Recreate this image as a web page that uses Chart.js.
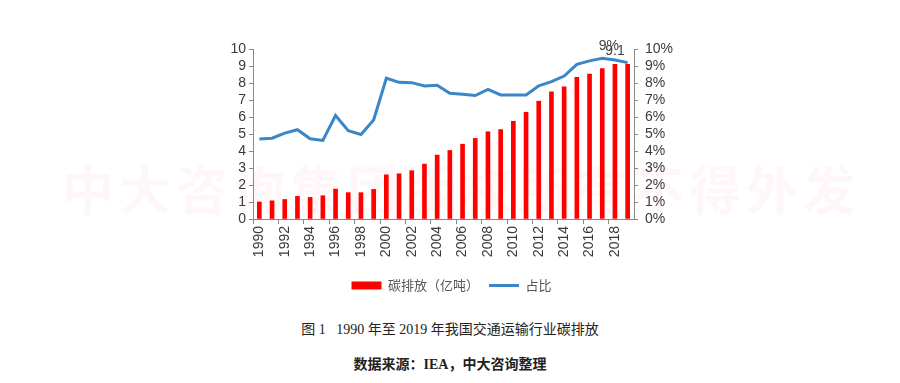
<!DOCTYPE html>
<html>
<head>
<meta charset="utf-8">
<script src="https://cdn.jsdelivr.net/npm/chart.js@4/dist/chart.umd.min.js"></script>
<style>
  html, body { margin: 0; padding: 0; background: #fff; }
  body { width: 900px; height: 383px; position: relative; overflow: hidden; }
  #wm { position: absolute; left: 62px; top: 150px; font: 52px "Noto Sans CJK SC", sans-serif; letter-spacing: 5px; color: rgba(255,0,0,0.03); white-space: nowrap; font-weight: bold; }
  #wrap { position: absolute; left: 0; top: 0; width: 900px; height: 302px; }
  #cap1 { position: absolute; left: 0; width: 900px; top: 318px; text-align: center; font: 14px "Liberation Serif", "Noto Sans CJK SC", serif; color: #222; }
  #cap2 { position: absolute; left: 0; width: 900px; top: 353px; text-align: center; font: bold 14px "Liberation Serif", "Noto Sans CJK SC", serif; color: #222; }
</style>
</head>
<body>
<div id="wm">中大咨询集团版权所有不得外发</div>
<div id="wrap"><canvas id="c"></canvas></div>
<div id="cap1">图 1&nbsp;&nbsp;&nbsp;1990 年至 2019 年我国交通运输行业碳排放</div>
<div id="cap2">数据来源：IEA，中大咨询整理</div>
<script>
const years = ['1990','1991','1992','1993','1994','1995','1996','1997','1998','1999','2000','2001','2002','2003','2004','2005','2006','2007','2008','2009','2010','2011','2012','2013','2014','2015','2016','2017','2018','2019'];
const emissions = [1.0,1.07,1.15,1.33,1.27,1.37,1.76,1.55,1.55,1.74,2.6,2.66,2.84,3.23,3.76,4.03,4.4,4.74,5.13,5.26,5.75,6.28,6.93,7.48,7.77,8.34,8.53,8.85,9.1,9.1];
const share = [4.70,4.75,5.05,5.25,4.72,4.62,6.09,5.2,4.97,5.83,8.28,8.04,8.02,7.83,7.87,7.40,7.34,7.26,7.63,7.30,7.30,7.30,7.83,8.08,8.41,9.1,9.3,9.45,9.35,9.2];
const leftTicks = [0,1,2,3,4,5,6,7,8,9,10];
const rightTicks = ['0%','1%','2%','3%','4%','5%','6%','7%','8%','9%','10%'];
const labelShare = '9%';
const labelEmission = '9.1';

const tickFont = { family: '"Liberation Sans", Arial, sans-serif', size: 14 };
const axisColor = '#888';
const textColor = '#3a3a3a';

const endLabels = {
  id: 'endLabels',
  afterDatasetsDraw(chart) {
    const ctx = chart.ctx;
    const x = chart.scales.x;
    const y = chart.scales.y;
    const y1 = chart.scales.y1;
    const i = 28;
    ctx.save();
    ctx.font = '14px "Liberation Sans", Arial, sans-serif';
    ctx.fillStyle = '#444';
    ctx.textAlign = 'center';
    ctx.textBaseline = 'middle';
    ctx.fillText(labelShare, x.getPixelForValue(i) - 6, y1.getPixelForValue(share[i]) - 14);
    ctx.fillText(labelEmission, x.getPixelForValue(i), y.getPixelForValue(emissions[i]) - 13);
    ctx.restore();
  }
};

new Chart(document.getElementById('c'), {
  data: {
    labels: years,
    datasets: [
      {
        type: 'bar',
        label: '碳排放（亿吨）',
        data: emissions,
        backgroundColor: '#ff0000',
        borderWidth: 0,
        barThickness: 4,
        yAxisID: 'y',
        pointStyle: 'rect',
        order: 2
      },
      {
        type: 'line',
        label: '占比',
        data: share,
        borderColor: '#3b86c8',
        backgroundColor: '#3b86c8',
        borderWidth: 3,
        pointRadius: 0,
        tension: 0,
        yAxisID: 'y1',
        pointStyle: 'line',
        order: 1
      }
    ]
  },
  options: {
    responsive: true,
    maintainAspectRatio: false,
    animation: false,
    layout: { padding: { left: 230, right: 227, top: 49, bottom: 0 } },
    plugins: {
      legend: {
        position: 'bottom',
        labels: {
          usePointStyle: true,
          pointStyleWidth: 30,
          boxHeight: 8,
          color: '#555',
          font: { family: '"Noto Sans CJK SC", sans-serif', size: 13 },
          padding: 10,
          sort: (a, b) => a.datasetIndex - b.datasetIndex
        }
      },
      tooltip: { enabled: false }
    },
    scales: {
      x: {
        offset: true,
        grid: {
          offset: true,
          drawOnChartArea: false,
          tickLength: 5,
          tickColor: (c) => (c.index % 2 === 0 ? axisColor : 'rgba(0,0,0,0)')
        },
        border: { color: axisColor, width: 1 },
        ticks: {
          autoSkip: false,
          maxRotation: 90,
          minRotation: 90,
          padding: 2,
          color: textColor,
          font: tickFont,
          callback: (v, i) => (i % 2 === 0 ? years[i] : '')
        },
        afterFit: (s) => { s.height = 50; }
      },
      y: {
        position: 'left',
        min: 0,
        max: 10,
        grid: { drawOnChartArea: false, tickLength: 4, tickColor: axisColor },
        border: { color: axisColor, width: 1 },
        ticks: {
          autoSkip: false,
          stepSize: 1,
          padding: 3,
          color: textColor,
          font: tickFont,
          callback: (v) => leftTicks[v]
        },
        afterFit: (s) => { s.width = 23; }
      },
      y1: {
        position: 'right',
        min: 0,
        max: 10,
        grid: { drawOnChartArea: false, tickLength: 4, tickColor: axisColor },
        border: { color: axisColor, width: 1 },
        ticks: {
          autoSkip: false,
          stepSize: 1,
          padding: 7,
          color: textColor,
          font: tickFont,
          callback: (v) => rightTicks[v]
        },
        afterFit: (s) => { s.width = 39; }
      }
    }
  },
  plugins: [endLabels]
});
</script>
</body>
</html>
